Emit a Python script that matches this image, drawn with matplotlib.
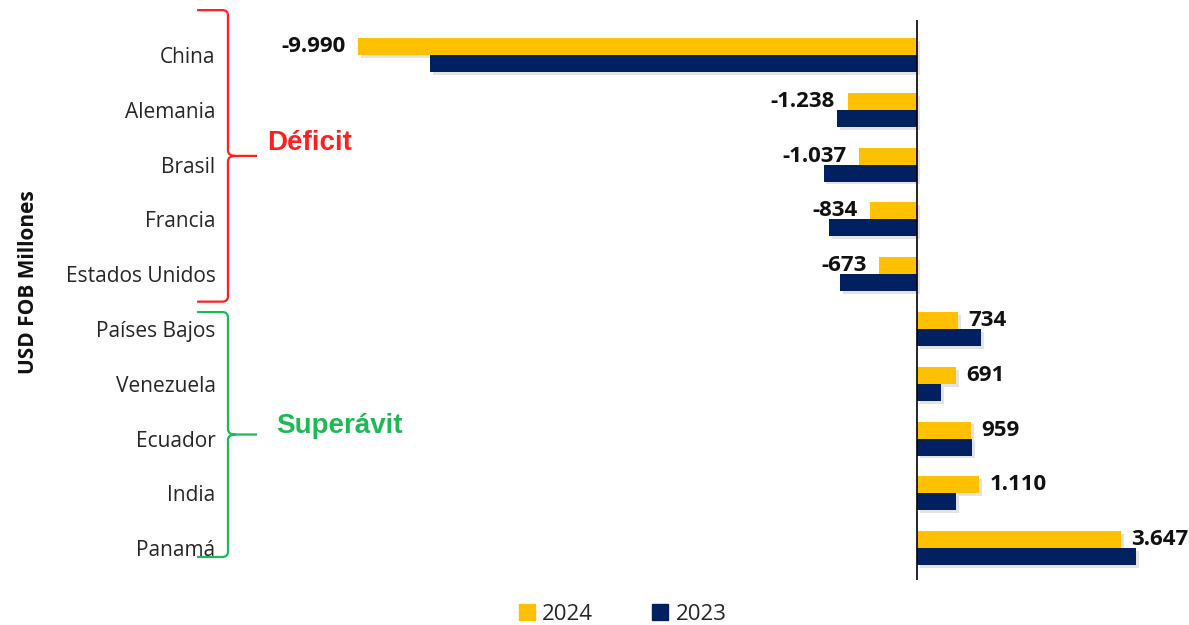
import numpy as np
import matplotlib.pyplot as plt
import matplotlib.patheffects as pe
from matplotlib.path import Path
from matplotlib.patches import PathPatch
from matplotlib.lines import Line2D
from matplotlib.transforms import blended_transform_factory

# Data (USD FOB millones)
countries = ["China", "Alemania", "Brasil", "Francia", "Estados Unidos",
             "Países Bajos", "Venezuela", "Ecuador", "India", "Panamá"]
v2024 = [-9990, -1238, -1037, -834, -673, 734, 691, 959, 1110, 3647]
v2023 = [-8710, -1430, -1670, -1570, -1380, 1140, 430, 985, 690, 3910]
groups = [("Déficit", 0, 4, "#FF1F1F"), ("Superávit", 5, 9, "#1DB954")]

c24 = "#FFC000"
c23 = "#002060"

plt.rcParams['font.family'] = ['Open Sans', 'DejaVu Sans']

fig = plt.figure(figsize=(11.89, 6.25), dpi=100)
ax = fig.add_axes([235 / 1189, 1 - 580 / 625, 925 / 1189, 560 / 625])

y = np.arange(len(countries))
h = 0.31
shadow = [pe.SimplePatchShadow(offset=(2, -2), shadow_rgbFace='#777777', alpha=0.2), pe.Normal()]
ax.barh(y - h / 2, v2024, height=h, color=c24, path_effects=shadow, zorder=3)
ax.barh(y + h / 2, v2023, height=h, color=c23, path_effects=shadow, zorder=3)

# value labels for 2024
for yi, v in zip(y, v2024):
    txt = f"{v:,}".replace(",", ".")
    if v < 0:
        ax.text(v - 230, yi - h / 2, txt, ha='right', va='center',
                fontsize=16, fontweight='bold', color='#111111')
    else:
        ax.text(v + 180, yi - h / 2, txt, ha='left', va='center',
                fontsize=16, fontweight='bold', color='#111111')

ax.axvline(0, color='black', lw=1.2, zorder=4)
ax.set_xlim(-12190, 4340)
ax.set_ylim(9.58, -0.64)
ax.set_xticks([])
ax.set_yticks(y)
ax.set_yticklabels(countries, fontsize=15, color='#262626')
ax.tick_params(axis='y', length=0, pad=14)
for s in ax.spines.values():
    s.set_visible(False)

# braces in blended coords: x axes fraction, y data
tr = blended_transform_factory(ax.transAxes, ax.transData)
xe, xv, xt = -0.041, -0.0076, 0.0238
for name, i0, i1, col in groups:
    if i0 == 0:
        top, bot = i0 - 0.82, i1 + 0.5
    else:
        top, bot = i0 - 0.31, i1 + 0.16
    mid = (top + bot) / 2
    r = 0.1
    verts = [(xe, top), (xv - 0.006, top), (xv, top), (xv, top + r),
             (xv, mid - r), (xv, mid), (xv + 0.008, mid), (xt, mid),
             (xv + 0.008, mid), (xv, mid), (xv, mid + r),
             (xv, bot - r), (xv, bot), (xv - 0.006, bot), (xe, bot)]
    codes = [Path.MOVETO, Path.LINETO, Path.CURVE3, Path.CURVE3,
             Path.LINETO, Path.CURVE3, Path.CURVE3, Path.LINETO,
             Path.MOVETO, Path.CURVE3, Path.CURVE3,
             Path.LINETO, Path.CURVE3, Path.CURVE3, Path.LINETO]
    ax.add_patch(PathPatch(Path(verts, codes), fill=False, ec=col, lw=1.6,
                           transform=tr, clip_on=False))
    ax.text(xt + (0.011 if i0 == 0 else 0.021), mid - (0.24 if i0 == 0 else 0.15),
            name, transform=tr, color=col, fontsize=20, fontweight='bold',
            ha='left', va='center', family=['Liberation Sans', 'DejaVu Sans'])

fig.text(28 / 1189, 1 - 282 / 625, "USD FOB Millones", rotation=90, ha='center',
         va='center', fontsize=15, fontweight='bold', color='#111111')

handles = [Line2D([], [], marker='s', ls='', color=c24, markersize=11),
           Line2D([], [], marker='s', ls='', color=c23, markersize=11)]
fig.legend(handles, ["2024", "2023"], loc='center', ncol=2,
           bbox_to_anchor=(622 / 1189, 1 - 614 / 625), frameon=False,
           fontsize=16, handlelength=0.8, handletextpad=0.3, columnspacing=2.6,
           labelcolor='#262626')

fig.savefig("out.png", dpi=100)
